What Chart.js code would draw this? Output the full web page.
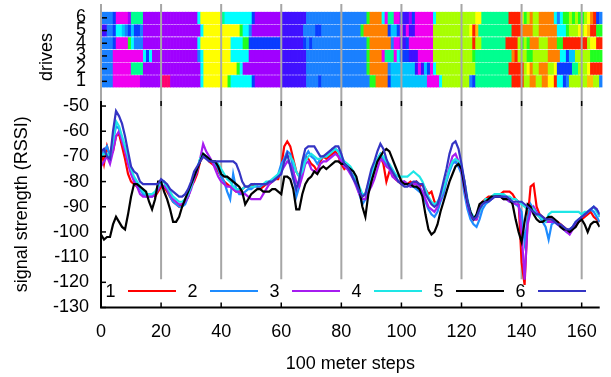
<!DOCTYPE html>
<html><head><meta charset="utf-8">
<script src="https://cdn.jsdelivr.net/npm/chart.js@4.4.0/dist/chart.umd.min.js"></script>
<style>
html,body{margin:0;padding:0;background:#fff;}
#wrap{position:relative;width:611px;height:377px;overflow:hidden;}
canvas{position:absolute;left:0;top:0;}
</style></head><body>
<div id="wrap">
<canvas id="band" width="611" height="100"></canvas>
<canvas id="lines" width="611" height="377"></canvas>
</div>
<script>
// ---------- data ----------
const driveLabels = ['1','2','3','4','5','6'];
// run-length strings: colour key + number of consecutive 100 m cells (166 cells per drive)
const drive1Cells = "B4 M9 P7 K3 P10 C1 Y8 N1 C7 D1 P9 I8 B4 D1 B16 N2 O4 D1 S12 M4 C1 L9 B1 D1 G12 R4 L2 O2 L2 O2 Y2 R1 C2 D1 B1 L2 L4 Q2 L2 B1";
const drive2Cells = "B4 M6 G4 P19 C1 Y11 N1 C1 P13 I8 B20 N1 O6 B1 S8 I1 M1 I1 S1 D1 M1 C1 L13 G11 R5 L1 Y1 O1 L2 O3 L2 Y1 D5 G2 L3 Y1 R4";
const drive3Cells = "B4 M10 C1 D1 C1 P15 B1 C1 Y9 C6 P11 I8 B20 N1 O4 M1 G3 M1 C1 D3 I3 M5 L13 N1 G12 O1 R1 L3 N2 L5 O4 C2 D1 S2 L5 N4";
const drive4Cells = "B4 D1 M4 N1 C1 B3 P18 C1 Y10 C4 N2 D11 I7 D1 B1 D1 B18 N1 O7 B1 M2 I2 D1 M8 L13 R1 L2 G8 R4 L1 N1 L1 N1 O3 L3 O3 N2 R8 L1 Y2 R2";
const drive5Cells = "I2 B2 D1 C2 S1 B1 D1 S1 D2 B1 P19 C1 Y12 N1 C2 B1 P10 I7 B4 D2 B13 N1 O8 D1 S2 D1 M1 I1 M1 I2 M6 L12 Y1 R1 Q1 G11 R3 O4 L2 O6 C3 N1 L3 Y1 L1 Y1 Q1 R2 N2";
const drive6Cells = "B4 D1 M4 P1 G4 P18 C1 Y7 G1 C9 D1 P9 I8 B20 N1 O4 C1 M1 G2 M2 D1 I2 P1 D1 M6 C1 L13 Y2 G9 R4 Y1 N1 L1 O1 L2 O5 C1 B1 C1 N2 L1 N1 L1 N2 L1 Y1 O1 R1 D1 B1";
const cellPalette = {B:'#1a80ff',D:'#0a3cff',I:'#4010ff',P:'#a000ff',M:'#f000f0',K:'#ff0070',R:'#ff2000',
  O:'#ff8000',Q:'#ffc000',Y:'#ffff00',L:'#a8ff00',N:'#20ff20',G:'#00ff90',C:'#00ffff',S:'#00c4ff'};

const seriesLabels = ['1','2','3','4','5','6'];
const xTicks = [0,20,40,60,80,100,120,140,160];
const yTicks = [-50,-60,-70,-80,-90,-100,-110,-120,-130];
const steps = [];
for (let i = 0; i <= 166; i++) steps.push(i);

const rssi1 = [-67,-73,-66,-70,-68,-62,-61,-66,-71,-77,
 -80,-81,-82,-83,-84,-85,-85,-85,-86,-84,
 -82,-82,-84,-86,-88,-89,-90,-89,-88,-86,
 -82,-80,-77,-72,-70,-70,-72,-73,-74,-76,
 -78,-80,-81,-82,-83,-84,-84,-83,-82,-82,
 -82,-81,-82,-83,-82,-81,-81,-80,-79,-79,
 -74,-66,-64,-66,-71,-76,-78,-74,-70,-71,
 -73,-74,-76,-72,-70,-71,-70,-69,-68,-70,
 -73,-75,-74,-76,-78,-80,-83,-86,-85,-81,
 -78,-75,-72,-70,-73,-80,-76,-76,-79,-80,
 -81,-80,-81,-80,-81,-80,-82,-81,-83,-85,
 -84,-88,-89,-87,-84,-79,-75,-72,-72,-74,
 -75,-80,-89,-94,-95,-95,-91,-88,-87,-86,
 -86,-86,-86,-85,-84,-84,-84,-85,-87,-88,
 -112,-121,-95,-82,-81,-90,-93,-94,-95,-95,
 -95,-96,-96,-97,-98,-99,-100,-98,-97,-96,
 -95,-94,-93,-92,-94,-95,-96];
const rssi2 = [-70,-68,-66,-70,-64,-58,-59,-63,-67,-72,
 -76,-79,-81,-83,-85,-86,-86,-86,-85,-83,
 -80,-80,-83,-86,-88,-89,-90,-90,-89,-86,
 -82,-78,-75,-71,-69,-70,-71,-72,-73,-75,
 -78,-80,-84,-87,-77,-83,-85,-85,-84,-83,
 -83,-82,-82,-82,-81,-81,-80,-80,-79,-77,
 -73,-71,-68,-69,-75,-86,-82,-75,-70,-68,
 -70,-71,-73,-71,-70,-70,-69,-67,-67,-68,
 -71,-73,-75,-76,-78,-81,-85,-89,-87,-82,
 -77,-74,-71,-69,-71,-73,-74,-76,-78,-80,
 -80,-80,-81,-82,-82,-83,-84,-85,-88,-91,
 -93,-94,-92,-88,-85,-80,-76,-73,-72,-74,
 -77,-85,-91,-95,-97,-98,-95,-91,-89,-88,
 -87,-86,-85,-85,-86,-87,-88,-88,-89,-90,
 -92,-104,-95,-89,-91,-93,-94,-96,-98,-103,
 -97,-96,-97,-98,-99,-100,-99,-98,-96,-95,
 -94,-93,-92,-91,-92,-94,-96];
const rssi3 = [-74,-72,-70,-73,-68,-62,-60,-64,-68,-73,
 -77,-80,-82,-85,-86,-86,-86,-86,-85,-83,
 -81,-82,-83,-85,-87,-88,-89,-89,-88,-86,
 -83,-79,-76,-71,-65,-68,-70,-72,-75,-78,
 -80,-81,-82,-82,-83,-84,-84,-85,-85,-86,
 -87,-87,-87,-87,-85,-83,-81,-80,-79,-78,
 -76,-74,-72,-73,-76,-80,-82,-78,-73,-72,
 -75,-76,-76,-73,-72,-72,-71,-70,-69,-70,
 -72,-74,-75,-77,-79,-82,-85,-87,-87,-84,
 -82,-79,-75,-71,-72,-74,-75,-78,-79,-80,
 -80,-80,-81,-82,-81,-81,-82,-84,-87,-90,
 -91,-92,-90,-87,-83,-79,-74,-70,-69,-72,
 -76,-83,-89,-93,-95,-95,-92,-89,-88,-87,
 -87,-86,-86,-86,-87,-87,-88,-88,-89,-89,
 -100,-119,-97,-92,-90,-92,-94,-95,-96,-96,
 -96,-96,-97,-98,-99,-100,-101,-99,-97,-96,
 -94,-93,-92,-91,-90,-91,-94];
const rssi4 = [-70,-69,-69,-70,-64,-56,-58,-62,-66,-70,
 -75,-78,-80,-82,-84,-85,-85,-85,-84,-82,
 -80,-80,-82,-84,-86,-87,-88,-88,-87,-85,
 -82,-78,-75,-71,-69,-70,-71,-72,-72,-73,
 -75,-77,-79,-80,-82,-83,-83,-83,-82,-82,
 -82,-82,-81,-81,-81,-80,-80,-79,-78,-77,
 -75,-72,-70,-70,-72,-76,-78,-76,-72,-70,
 -69,-70,-71,-71,-70,-70,-69,-68,-67,-68,
 -70,-72,-73,-74,-76,-79,-82,-85,-85,-81,
 -77,-74,-71,-69,-70,-72,-73,-75,-77,-78,
 -78,-78,-78,-77,-76,-77,-78,-80,-83,-86,
 -88,-89,-88,-86,-83,-79,-75,-72,-71,-72,
 -74,-80,-87,-92,-94,-94,-92,-89,-87,-87,
 -86,-85,-85,-85,-85,-86,-86,-87,-87,-88,
 -89,-90,-91,-90,-91,-93,-94,-95,-96,-93,
 -92,-92,-92,-92,-92,-92,-92,-92,-92,-92,
 -93,-92,-92,-91,-90,-92,-94];
const rssi5 = [-101,-103,-102,-102,-97,-94,-96,-98,-99,-93,
 -86,-81,-81,-82,-83,-84,-88,-91,-87,-80,
 -80,-84,-87,-91,-96,-96,-94,-90,-87,-84,
 -81,-78,-75,-72,-69,-70,-71,-72,-72,-74,
 -77,-78,-78,-79,-80,-81,-82,-84,-89,-87,
 -85,-84,-83,-83,-84,-84,-84,-83,-83,-84,
 -85,-78,-78,-79,-83,-91,-91,-85,-81,-79,
 -78,-76,-77,-75,-74,-75,-74,-73,-72,-72,
 -73,-73,-74,-75,-76,-78,-83,-90,-94,-85,
 -80,-76,-72,-70,-68,-67,-68,-71,-74,-77,
 -80,-81,-81,-81,-82,-82,-83,-86,-93,-99,
 -101,-100,-97,-92,-88,-84,-80,-77,-74,-73,
 -75,-82,-88,-92,-95,-93,-89,-88,-88,-87,
 -86,-86,-86,-86,-87,-87,-87,-89,-95,-100,
 -104,-96,-89,-90,-93,-95,-96,-96,-95,-94,
 -94,-95,-96,-98,-99,-99,-100,-99,-98,-96,
 -95,-97,-100,-97,-96,-96,-98];
const rssi6 = [-68,-67,-70,-71,-60,-52,-54,-57,-62,-68,
 -74,-76,-77,-80,-81,-81,-81,-81,-81,-81,
 -79,-80,-81,-83,-84,-85,-86,-86,-85,-83,
 -80,-76,-74,-72,-70,-71,-72,-72,-72,-72,
 -72,-72,-72,-72,-72,-73,-76,-80,-82,-82,
 -81,-81,-81,-81,-81,-81,-80,-80,-79,-78,
 -77,-72,-69,-74,-79,-83,-79,-72,-67,-66,
 -66,-66,-68,-70,-70,-69,-68,-67,-66,-66,
 -69,-73,-74,-76,-79,-81,-84,-86,-85,-80,
 -75,-72,-68,-65,-67,-71,-74,-76,-78,-80,
 -81,-82,-82,-81,-80,-80,-81,-81,-85,-87,
 -89,-90,-89,-85,-80,-75,-69,-65,-64,-67,
 -73,-80,-88,-93,-95,-94,-91,-89,-88,-88,
 -87,-86,-86,-86,-86,-86,-87,-88,-88,-88,
 -88,-89,-90,-91,-92,-93,-93,-94,-95,-95,
 -95,-96,-97,-97,-98,-99,-99,-98,-96,-95,
 -94,-93,-92,-91,-90,-91,-93];
const seriesValues = [rssi1, rssi2, rssi3, rssi4, rssi5, rssi6];
const seriesColors = ['#ff0000','#1e8cff','#a61cf0','#1ee6e6','#000000','#3434c4'];
const guideBottom = -118.8; // where the vertical guide lines stop (RSSI value)

// ---------- helpers ----------
const FONT = "'Liberation Sans', Arial, Helvetica, sans-serif";
function expandRuns(s){
  const out = [];
  s.trim().split(/\s+/).forEach(t => { const c = t[0], n = +t.slice(1); for (let k = 0; k < n; k++) out.push(c); });
  return out;
}
Chart.defaults.font.family = FONT;
Chart.defaults.font.size = 18;
Chart.defaults.color = '#000';

// ---------- band chart (drives) ----------
const driveRows = [drive1Cells, drive2Cells, drive3Cells, drive4Cells, drive5Cells, drive6Cells].map(expandRuns);
const cellLabels = driveRows[0].map((_, i) => i);
const bandPlugin = {
  id: 'bandDeco',
  afterDraw(chart){
    const {ctx, chartArea: a, scales: {y}} = chart;
    ctx.save();
    ctx.strokeStyle = '#000'; ctx.lineWidth = 1.5;
    ctx.font = '18px ' + FONT; ctx.fillStyle = '#000';
    ctx.textAlign = 'right'; ctx.textBaseline = 'middle';
    driveLabels.forEach((lab, i) => {
      const py = y.getPixelForValue(i + 1);
      ctx.beginPath(); ctx.moveTo(a.left, py); ctx.lineTo(a.left + 6, py); ctx.stroke();
      ctx.fillText(lab, a.left - 15, py - 0.5);
    });
    ctx.translate(47, 57); ctx.rotate(-Math.PI / 2);
    ctx.textAlign = 'center';
    ctx.fillText('drives', 0, 0);
    ctx.restore();
  }
};
new Chart(document.getElementById('band'), {
  type: 'bar',
  data: {
    labels: cellLabels,
    datasets: driveRows.map((row, r) => ({
      label: driveLabels[r],
      data: row.map(() => [r + 1 - 0.45, r + 1 + 0.45]),
      backgroundColor: row.map(k => cellPalette[k]),
      borderWidth: 0,
      barPercentage: 1, categoryPercentage: 1, grouped: false
    }))
  },
  options: {
    responsive: false, animation: false,
    layout: {padding: {left: 101, right: 8.5, top: 11.5, bottom: 12.3}},
    plugins: {legend: {display: false}, tooltip: {enabled: false}},
    scales: {
      x: {display: false, offset: true},
      y: {display: false, min: 0.5, max: 6.5}
    }
  },
  plugins: [bandPlugin]
});

// ---------- line chart ----------
const linePlugin = {
  id: 'lineDeco',
  beforeDatasetsDraw(chart){
    const {ctx, scales: {x, y}} = chart;
    ctx.save();
    ctx.strokeStyle = '#a6a6a6'; ctx.lineWidth = 2;
    const yEnd = y.getPixelForValue(guideBottom);
    xTicks.forEach(v => {
      const px = x.getPixelForValue(v);
      ctx.beginPath(); ctx.moveTo(px, 4); ctx.lineTo(px, yEnd); ctx.stroke();
    });
    ctx.restore();
  },
  afterDatasetsDraw(chart){
    const {ctx, chartArea: a, scales: {x, y}} = chart;
    ctx.save();
    ctx.strokeStyle = '#000'; ctx.lineWidth = 2;
    ctx.beginPath(); ctx.moveTo(a.left, a.top); ctx.lineTo(a.left, a.bottom); ctx.lineTo(a.right, a.bottom); ctx.stroke();
    ctx.lineWidth = 1.5;
    xTicks.forEach(v => {
      const px = x.getPixelForValue(v);
      ctx.beginPath(); ctx.moveTo(px, a.bottom); ctx.lineTo(px, a.bottom - 5); ctx.stroke();
      ctx.beginPath(); ctx.moveTo(px, a.top); ctx.lineTo(px, a.top + 5); ctx.stroke();
    });
    yTicks.forEach(v => {
      const py = y.getPixelForValue(v);
      ctx.beginPath(); ctx.moveTo(a.left, py); ctx.lineTo(a.left + 5, py); ctx.stroke();
    });
    ctx.font = '18px ' + FONT; ctx.fillStyle = '#000';
    ctx.textAlign = 'right'; ctx.textBaseline = 'middle';
    const ly = a.bottom - 16.5;
    seriesLabels.forEach((lab, i) => {
      const x0 = a.left + 82 * i;
      ctx.fillText(lab, x0 + 14.5, ly + 1);
      ctx.strokeStyle = seriesColors[i]; ctx.lineWidth = 2.2;
      ctx.beginPath(); ctx.moveTo(x0 + 27, ly); ctx.lineTo(x0 + 75, ly); ctx.stroke();
    });
    ctx.textAlign = 'center';
    ctx.fillText('100 meter steps', (a.left + a.right) / 2, 364);
    ctx.translate(22, (a.top + a.bottom) / 2); ctx.rotate(-Math.PI / 2);
    ctx.fillText('signal strength (RSSI)', 0, 0);
    ctx.restore();
  }
};
new Chart(document.getElementById('lines'), {
  type: 'line',
  data: {
    datasets: seriesValues.map((vals, i) => ({
      label: seriesLabels[i],
      data: vals.map((v, k) => ({x: steps[k], y: v})),
      borderColor: seriesColors[i],
      borderWidth: 2.2,
      pointRadius: 0,
      tension: 0,
      fill: false,
      order: 6 - i
    }))
  },
  options: {
    responsive: false, animation: false,
    layout: {padding: {left: 0, right: 8.5, top: 101, bottom: 0}},
    plugins: {legend: {display: false}, tooltip: {enabled: false}},
    scales: {
      x: {
        type: 'linear', min: 0, max: 166,
        afterFit(s){ s.height = 69.5; },
        afterBuildTicks(s){ s.ticks = xTicks.map(v => ({value: v})); },
        ticks: {padding: 14, maxRotation: 0, font: {size: 18}},
        grid: {display: false, drawTicks: false},
        border: {display: false}
      },
      y: {
        type: 'linear', min: -130, max: -48,
        afterFit(s){ s.width = 101; },
        afterBuildTicks(s){ s.ticks = yTicks.map(v => ({value: v})); },
        ticks: {padding: 12, font: {size: 18}},
        grid: {display: false, drawTicks: false},
        border: {display: false}
      }
    }
  },
  plugins: [linePlugin]
});
</script>
</body></html>
